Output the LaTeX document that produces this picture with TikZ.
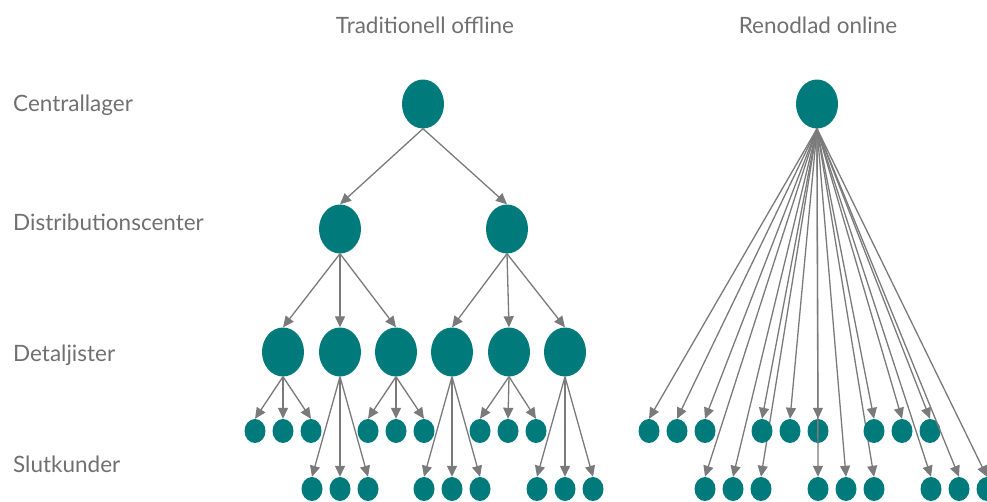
\documentclass[tikz,border=0pt]{standalone}
\usepackage{fontspec}
\setmainfont{Lato}
\usetikzlibrary{shapes.geometric,arrows.meta}

\definecolor{nodeteal}{RGB}{0,122,122}
\definecolor{arrowgray}{RGB}{122,122,122}
\definecolor{textgray}{RGB}{112,112,112}

\tikzset{
  bigdot/.style={ellipse, fill=nodeteal, minimum width=42pt, minimum height=49pt, inner sep=0pt},
  smalldot/.style={ellipse, fill=nodeteal, minimum width=21pt, minimum height=24pt, inner sep=0pt},
  flow/.style={draw=arrowgray, line width=1.3pt, -{Triangle[length=11pt,width=10pt]}},
  rowlabel/.style={text=textgray, font=\fontsize{22.5}{27}\selectfont, anchor=base west, inner sep=0pt},
  title/.style={text=textgray, font=\fontsize{22.5}{27}\selectfont, anchor=base, inner sep=0pt}
}

\begin{document}
\begin{tikzpicture}[x=1pt, y=-1pt]
\useasboundingbox (0,0) rectangle (987,501);

% titles and levels
\node[title] (titleoff) at (425,33) {Traditionell offline};
\node[title] (titleon) at (818,33) {Renodlad online};

\node[rowlabel] (central) at (13,111) {Centrallager};
\node[rowlabel] (distcenter) at (13,230) {Distributionscenter};
\node[rowlabel] (retail) at (13,361) {Detaljister};
\node[rowlabel] (customers) at (13,472) {Slutkunder};

% traditional offline
\node[bigdot] (c1) at (423,104) {};
\node[bigdot] (d1) at (340,229) {};
\node[bigdot] (d2) at (507,229) {};

\draw[flow] (c1.south) -- (d1.north);
\draw[flow] (c1.south) -- (d2.north);

\foreach \i/\x in {1/283, 2/340, 3/396} {
  \node[bigdot] (r\i) at (\x,352) {};
  \draw[flow] (d1.south) -- (r\i.north);
}
\foreach \i/\x in {4/452, 5/509, 6/565} {
  \node[bigdot] (r\i) at (\x,352) {};
  \draw[flow] (d2.south) -- (r\i.north);
}

\foreach \i/\x/\y in {1/283/431, 2/340/489, 3/396/431, 4/452/489, 5/508/431, 6/565/489}
  \foreach \k/\dx in {1/-28, 2/0, 3/28} {
    \node[smalldot] (l\i\k) at (\x+\dx,\y) {};
    \draw[flow] (r\i.south) -- (l\i\k.north);
  }

% pure online
\node[bigdot] (c2) at (817,104) {};

\foreach \i/\x/\y in {1/677/431, 2/733/489, 3/790/431, 4/846/489, 5/902/431, 6/959/489}
  \foreach \k/\dx in {1/-28, 2/0, 3/28} {
    \node[smalldot] (o\i\k) at (\x+\dx,\y) {};
    \draw[flow] (c2.south) -- (o\i\k.north);
  }
\end{tikzpicture}
\end{document}
